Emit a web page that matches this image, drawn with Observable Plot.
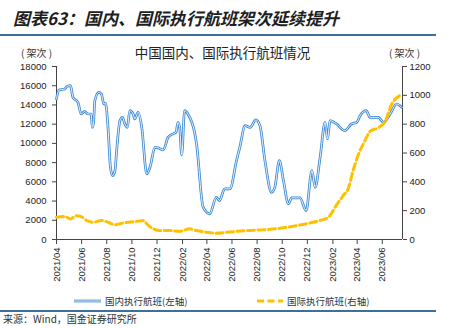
<!DOCTYPE html>
<html>
<head>
<meta charset="utf-8">
<script src="https://cdn.jsdelivr.net/npm/d3@7"></script>
<script src="https://cdn.jsdelivr.net/npm/@observablehq/plot@0.6"></script>
<style>
  html, body { margin: 0; padding: 0; background: #fff; }
  #wrap { position: relative; width: 450px; height: 328px; overflow: hidden; background: #fff; font-family: "Noto Sans CJK SC", sans-serif; }
  .abs { position: absolute; white-space: nowrap; }
  #title { left: 13px; top: 6px; font-size: 17px; font-weight: bold; font-style: italic; color: #1e1e1e; line-height: 24px; }
  .hr { position: absolute; left: 0; width: 436px; height: 1.6px; background: #3f6e96; }
  #ctitle { left: 0; width: 445px; text-align: center; top: 43px; font-size: 13.5px; color: #222; line-height: 18px; }
  .unit { top: 45px; font-size: 10px; color: #333; line-height: 16px; }
  .leg { top: 293px; font-size: 9.5px; color: #333; line-height: 16px; }
  #src { left: 3px; top: 312px; font-size: 10px; color: #333; line-height: 14px; }
  #chart { position: absolute; left: 0; top: 40px; }
</style>
</head>
<body>
<div id="wrap">
  <div id="title" class="abs">图表63：国内、国际执行航班架次延续提升</div>
  <div class="hr" style="top:34px"></div>
  <div id="ctitle" class="abs">中国国内、国际执行航班情况</div>
  <div class="abs unit" style="left:21px">( 架次 )</div>
  <div class="abs unit" style="left:389px">( 架次 )</div>
  <div id="chart"></div>
  <svg class="abs" style="left:0;top:0" width="450" height="328">
    <line x1="74" x2="101" y1="301" y2="301" stroke="#3c88d4" stroke-width="2.7"/>
    <line x1="74" x2="101" y1="301" y2="301" stroke="#fff" stroke-width="0.9"/>
    <line x1="257" x2="283" y1="301" y2="301" stroke="#FFC000" stroke-width="3" stroke-dasharray="7,3.5"/>
  </svg>
  <div class="abs leg" style="left:105px">国内执行航班(左轴)</div>
  <div class="abs leg" style="left:287px">国际执行航班(右轴)</div>
  <div class="hr" style="top:310px"></div>
  <div id="src" class="abs">来源：Wind，国金证券研究所</div>
</div>
<script>
// ---- data ----
const domDates = ["2021-04-01","2021-04-07","2021-04-21","2021-04-26","2021-05-05","2021-05-11","2021-05-23","2021-05-31","2021-06-08","2021-06-16","2021-06-24","2021-06-27","2021-06-30","2021-07-03","2021-07-13","2021-07-19","2021-07-25","2021-07-29","2021-08-04","2021-08-10","2021-08-15","2021-08-21","2021-08-25","2021-09-02","2021-09-08","2021-09-14","2021-09-20","2021-09-26","2021-10-04","2021-10-08","2021-10-16","2021-10-25","2021-11-06","2021-11-14","2021-11-26","2021-12-04","2021-12-16","2021-12-28","2022-01-05","2022-01-16","2022-01-21","2022-01-25","2022-01-30","2022-02-06","2022-02-14","2022-03-07","2022-03-23","2022-04-08","2022-04-24","2022-05-02","2022-05-14","2022-05-27","2022-06-12","2022-06-20","2022-07-03","2022-07-15","2022-07-29","2022-08-08","2022-08-20","2022-09-05","2022-09-13","2022-09-24","2022-10-04","2022-10-16","2022-10-24","2022-11-13","2022-11-28","2022-12-12","2022-12-20","2023-01-01","2023-01-13","2023-01-19","2023-01-25","2023-02-10","2023-03-02","2023-03-18","2023-03-31","2023-04-08","2023-04-23","2023-05-02","2023-05-22","2023-06-04","2023-06-20","2023-07-06","2023-07-18"];
const domValues = [14620,15550,15650,15930,16000,14780,14270,13060,13330,13060,13060,11670,12190,14440,15300,15140,14100,14160,11670,7510,6650,7170,9250,12360,12710,12020,11670,13400,13060,12540,13230,11670,6830,7510,9590,9530,9320,10630,10910,11150,12190,11670,8800,13400,13060,9940,3360,2670,4390,4050,5270,5270,8210,9590,11840,11670,12440,11840,8210,4910,5430,8210,6130,3710,4330,4330,3010,7170,5430,8550,12190,10460,12360,12020,11320,12020,12190,12880,13400,12710,12710,12190,13060,14100,13750];

const intlDates = ["2021-04-01","2021-04-21","2021-05-05","2021-05-19","2021-05-31","2021-06-13","2021-06-29","2021-07-19","2021-08-04","2021-08-21","2021-09-07","2021-09-23","2021-10-14","2021-10-30","2021-11-06","2021-11-22","2021-12-08","2022-01-01","2022-01-25","2022-02-18","2022-03-07","2022-03-31","2022-04-24","2022-05-19","2022-07-07","2022-08-25","2022-10-04","2022-11-06","2022-12-09","2023-01-01","2023-01-21","2023-02-10","2023-02-26","2023-03-10","2023-03-22","2023-04-04","2023-04-20","2023-05-02","2023-05-22","2023-06-08","2023-06-24","2023-07-13"];
const intlValues = [154,159,143,164,159,132,120,132,120,102,113,120,127,132,109,74,62,62,57,74,62,51,44,50,62,69,81,97,116,132,154,240,305,351,478,590,686,750,775,820,940,997];

const leftTicks = [0,2000,4000,6000,8000,10000,12000,14000,16000,18000];
const rightTicks = [0,200,400,600,800,1000,1200];
const xTickLabels = ["2021/04","2021/06","2021/08","2021/10","2021/12","2022/02","2022/04","2022/06","2022/08","2022/10","2022/12","2023/02","2023/04","2023/06"];
const xStart = "2021-04-01", xEnd = "2023-07-20";

// ---- build ----
const ratio = 18000 / 1200;
const dom = domDates.map((d, i) => ({date: new Date(d), v: domValues[i]}));
const intl = intlDates.map((d, i) => ({date: new Date(d), v: intlValues[i] * ratio}));
const x0 = new Date(xStart), x1 = new Date(xEnd);
const xTicks = xTickLabels.map(s => new Date(s.replace("/", "-") + "-01"));
const fmtX = d3.utcFormat("%Y/%m");

const chart = Plot.plot({
  width: 450,
  height: 262,
  marginTop: 26,
  marginBottom: 63,
  marginLeft: 56,
  marginRight: 48,
  style: {fontFamily: "'Liberation Sans', Arial, sans-serif", fontSize: "9.5px", color: "#222", background: "transparent"},
  x: {type: "utc", domain: [x0, x1]},
  y: {domain: [0, 18000]},
  marks: [
    Plot.axisY({anchor: "left", ticks: leftTicks, tickFormat: d3.format("d"), tickSize: 4, tickPadding: 6, label: null, stroke: "#444"}),
    Plot.axisY({anchor: "right", ticks: rightTicks.map(v => v * ratio), tickFormat: d => d3.format("d")(d / ratio), tickSize: 4, tickPadding: 3, label: null, stroke: "#444"}),
    Plot.axisX({ticks: xTicks, tickFormat: fmtX, tickRotate: -90, tickSize: 5, tickPadding: 3, label: null, stroke: "#444"}),
    Plot.ruleY([0], {stroke: "#444"}),
    Plot.ruleX([x0, x1], {stroke: "#444"}),
    Plot.line(dom, {x: "date", y: "v", stroke: "#3c88d4", strokeWidth: 2.7, curve: "monotone-x"}),
    Plot.line(dom, {x: "date", y: "v", stroke: "#ffffff", strokeWidth: 0.9, curve: "monotone-x"}),
    Plot.line(intl, {x: "date", y: "v", stroke: "#FFC000", strokeWidth: 3, strokeDasharray: "7,3.5", curve: "monotone-x"})
  ]
});
document.getElementById("chart").appendChild(chart);
</script>
</body>
</html>
